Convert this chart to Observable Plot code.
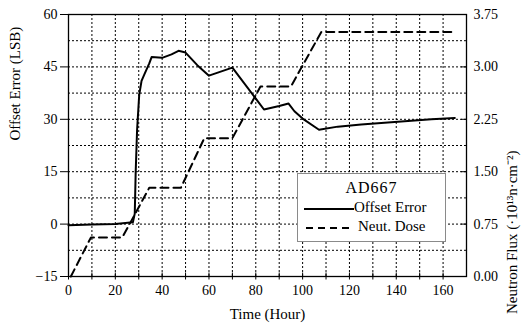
<!DOCTYPE html>
<html>
<head>
<meta charset="utf-8">
<script src="https://cdn.jsdelivr.net/npm/d3@7"></script>
<script src="https://cdn.jsdelivr.net/npm/@observablehq/plot@0.6"></script>
<style>
  html, body { margin: 0; padding: 0; background: #fff; }
  #wrap { position: relative; width: 523px; height: 326px; font-family: "Liberation Serif", "Times New Roman", serif; color: #000; }
  #legend { position: absolute; left: 297px; top: 173px; width: 149px; height: 69px; border: 1px solid #8a8a8a; background: #fff; box-sizing: border-box; }
  #legend .title { position: absolute; left: 0; right: 0; top: 5px; text-align: center; font-size: 16px; letter-spacing: 1px; }
  #legend .row { position: absolute; left: 6px; font-size: 15px; white-space: nowrap; }
  #legend svg { vertical-align: middle; }
</style>
</head>
<body>
<div id="wrap">
  <div id="chart"></div>
  <div id="legend">
    <div class="title">AD667</div>
    <div class="row" style="top:25px;"><svg width="50" height="16"><line x1="0" y1="8" x2="50" y2="8" stroke="#000" stroke-width="2"/></svg><span>Offset Error</span></div>
    <div class="row" style="top:44px;"><svg width="54" height="16"><line x1="2" y1="8" x2="46" y2="8" stroke="#000" stroke-width="2" stroke-dasharray="7,5"/></svg><span>Neut. Dose</span></div>
  </div>
</div>
<script>
// Offset error (LSB) vs time (hour)
const timeOffset = [0, 10, 20, 27.5, 28.3, 28.7, 29.3, 30.2, 31.2, 32.5, 34.5, 35.5, 40, 44, 47, 50, 55, 60, 70, 83.5, 90, 94, 96.5, 100, 107, 115, 125, 135, 145, 155, 165];
const offsetError = [-0.3, -0.1, 0.0, 0.5, 3, 15, 27, 37, 41, 43, 46, 47.8, 47.6, 48.6, 49.6, 49.1, 45.5, 42.5, 44.8, 32.8, 33.8, 34.5, 32.3, 30.2, 27.0, 27.9, 28.5, 29.0, 29.5, 30.0, 30.4];

// Neutron dose (1e13 n/cm^2) vs time (hour)
const timeDose = [1, 9.6, 23, 34.5, 48, 58, 70, 82, 95, 108, 165];
const neutDose = [0, 0.56, 0.56, 1.27, 1.27, 1.98, 1.98, 2.72, 2.72, 3.5, 3.5];

// Ticks
const xLabelTicks = [0, 20, 40, 60, 80, 100, 120, 140, 160];
const xGridTicks = [10, 20, 30, 40, 50, 60, 70, 80, 90, 100, 110, 120, 130, 140, 150, 160];
const xMinorTicks = [0, 10, 20, 30, 40, 50, 60, 70, 80, 90, 100, 110, 120, 130, 140, 150, 160];
const yLabelTicks = [-15, 0, 15, 30, 45, 60];
const yGridTicks = [-7.5, 0, 7.5, 15, 22.5, 30, 37.5, 45, 52.5];
const yRightTicks = [0, 0.75, 1.5, 2.25, 3.0, 3.75];

const xTitle = "Time (Hour)";
const yTitle = "Offset Error (LSB)";
const y2Title = "Neutron Flux (·10¹³n·cm⁻²)";

const offsetData = timeOffset.map((t, i) => ({t, v: offsetError[i]}));
const doseData = timeDose.map((t, i) => ({t, d: neutDose[i]}));
// right axis maps dose 0..3.75 onto left scale -15..60
const doseToLeft = d => d * 20 - 15;

const plot = Plot.plot({
  width: 523,
  height: 326,
  marginLeft: 68,
  marginRight: 57,
  marginTop: 14,
  marginBottom: 50,
  x: {domain: [0, 170]},
  y: {domain: [-15, 60]},
  style: {fontFamily: "'Liberation Serif', 'Times New Roman', serif", fontSize: "14px", color: "#000", background: "#fff"},
  marks: [
    Plot.ruleX(xGridTicks, {x: d => d, stroke: "#000", strokeWidth: 1, strokeDasharray: "2,2"}),
    Plot.ruleY(yGridTicks, {y: d => d, stroke: "#000", strokeWidth: 1, strokeDasharray: "2,2"}),
    Plot.line(doseData, {x: "t", y: d => doseToLeft(d.d), stroke: "#000", strokeWidth: 2, strokeDasharray: "8,5"}),
    Plot.line(offsetData, {x: "t", y: "v", stroke: "#000", strokeWidth: 2}),
    Plot.frame({stroke: "#000", strokeWidth: 1.3}),
    // bottom axis: crossing ticks and labels
    Plot.axisX(xMinorTicks, {anchor: "bottom", tickSize: 7, dy: -3.5, fill: "none", label: null}),
    Plot.axisX(xLabelTicks, {anchor: "bottom", tickSize: 0, tickPadding: 9, label: null, fontSize: 14}),
    // left axis
    Plot.axisY(yLabelTicks, {anchor: "left", tickSize: 8, tickPadding: 3, label: null, fontSize: 14}),
    // right axis (neutron flux)
    Plot.axisY(yLabelTicks, {anchor: "right", tickSize: 6, dx: -6, fill: "none", label: null}),
    Plot.axisY(yLabelTicks, {anchor: "right", tickSize: 0, tickPadding: 7, label: null, fontSize: 14,
      tickFormat: v => ((v + 15) / 20).toFixed(2)}),
    // titles
    Plot.text([xTitle], {frameAnchor: "bottom", dy: 42, text: d => d, fontSize: 15}),
    Plot.text([yTitle], {frameAnchor: "left", dx: -53, dy: -5, rotate: -90, text: d => d, fontSize: 15}),
    Plot.text([y2Title], {frameAnchor: "right", dx: 46, dy: 5, rotate: -90, text: d => d, fontSize: 15})
  ]
});
document.getElementById("chart").appendChild(plot);
</script>
</body>
</html>
